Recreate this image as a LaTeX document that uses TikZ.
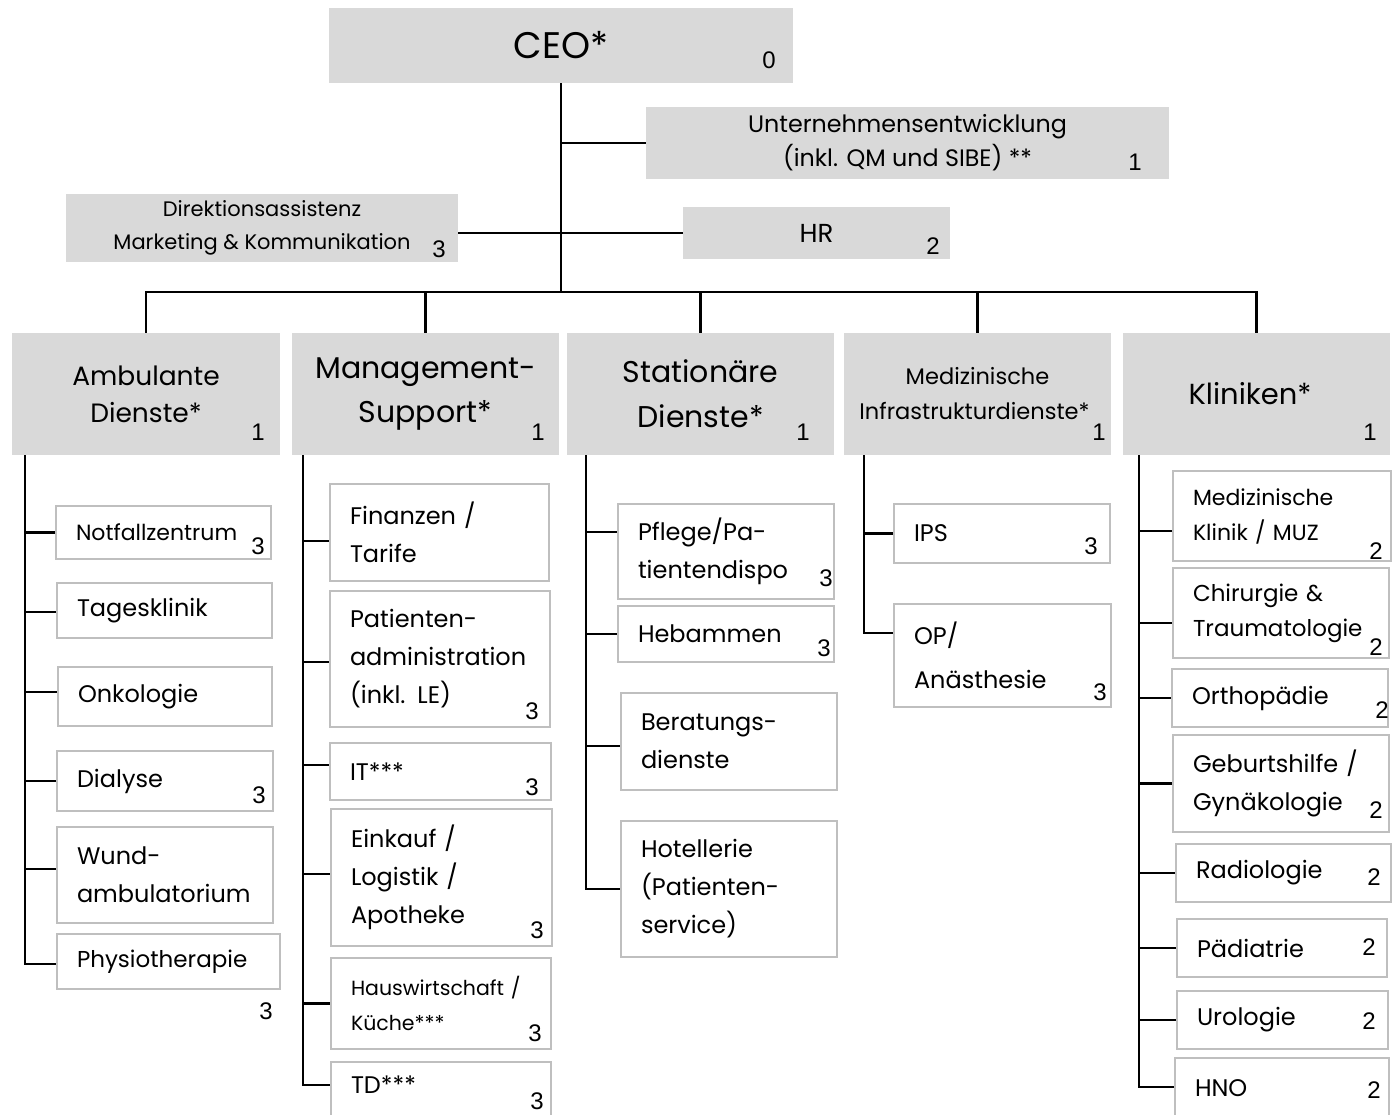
\documentclass[tikz,border=0pt]{standalone}
\usepackage{fontspec}
\setmainfont{Poppins}
\newfontfamily\numfont{Liberation Sans}
\definecolor{boxgray}{HTML}{D9D9D9}
\definecolor{edgegray}{HTML}{BFBFBF}
\tikzset{
  conn/.style={line width=2.5pt, black},
  head/.style={fill=boxgray, draw=none, inner sep=0pt, align=center},
  subbox/.style={draw=edgegray, line width=1.3pt, fill=white, inner xsep=20pt, inner ysep=0pt, align=left, font=\fontsize{24}{38}\selectfont},
  subsmall/.style={subbox, font=\fontsize{22}{35}\selectfont},
  num/.style={font=\numfont\fontsize{24}{24}\selectfont, inner sep=0pt},
}
\newcommand\headbox[7]{%
  \pgfmathsetmacro\myBW{#4-#2}\pgfmathsetmacro\myBH{#5-#3}%
  \node[head,#6,minimum width=\myBW pt,minimum height=\myBH pt] (#1) at ({(#2+#4)/2},{(#3+#5)/2}) {#7};}
\newcommand\subboxnode[7]{%
  \pgfmathsetmacro\myBW{#4-#2}\pgfmathsetmacro\myBH{#5-#3}\pgfmathsetmacro\myTW{#4-#2-40}%
  \node[subbox,#6,minimum width=\myBW pt,minimum height=\myBH pt,text width=\myTW pt] (#1) at ({(#2+#4)/2},{(#3+#5)/2}) {#7};}
% stub from trunk to box: trunk coordinate, box name, vertical shift
\newcommand\stub[3]{%
  \coordinate (#2C) at ([yshift=#3]#2.west);
  \draw[conn] (#1 |- #2C) -- (#2C);}
\newcommand\laststub[3]{%
  \coordinate (#2C) at ([yshift=#3]#2.west);
  \draw[conn] (#1) |- (#2C);}
\begin{document}
\begin{tikzpicture}[x=1pt,y=-1pt]
\useasboundingbox (0,0) rectangle (1399,1114);
\clip (0,0) rectangle (1399,1114);
\fill[white] (0,0) rectangle (1399,1114);

% top level
\headbox{ceo}{329}{8}{793}{83}{font=\fontsize{37}{40}\selectfont}{CEO*}
\headbox{unt}{646}{107}{1169}{179}{font=\fontsize{23.8}{34}\selectfont}{Unternehmensentwicklung\\(inkl. QM und SIBE) **}
\headbox{dir}{66}{194}{458}{262}{font=\fontsize{21}{33}\selectfont}{Direktionsassistenz\\Marketing \& Kommunikation}
\headbox{hr}{683}{207}{950}{259}{font=\fontsize{26}{30}\selectfont}{HR}

% columns
\headbox{amb}{12}{333}{280}{455}{font=\fontsize{26.5}{37}\selectfont}{Ambulante\\Dienste*}
\headbox{mgm}{292}{333}{559}{455}{font=\fontsize{30}{44}\selectfont}{Management-\\Support*}
\headbox{sta}{567}{333}{834}{455}{font=\fontsize{30}{45}\selectfont}{Stationäre\\Dienste*}
\headbox{med}{844}{333}{1111}{455}{font=\fontsize{22.5}{35}\selectfont}{Medizinische\\Infrastrukturdienste*\rule{6pt}{0pt}}
\headbox{kli}{1123}{333}{1390}{455}{font=\fontsize{29}{40}\selectfont}{Kliniken*\rule{13pt}{0pt}}

% Ambulante
\subboxnode{notf}{56}{506}{271}{559}{subsmall}{Notfallzentrum}
\subboxnode{tage}{57}{583}{272}{638}{}{Tagesklinik}
\subboxnode{onko}{58}{667}{272}{726}{}{Onkologie}
\subboxnode{dial}{57}{751}{273}{811}{}{Dialyse}
\subboxnode{wund}{57}{827}{273}{923}{}{Wund-\\ambulatorium}
\subboxnode{phys}{57}{934}{280}{989}{font=\fontsize{23}{38}\selectfont}{Physiotherapie}
% Management
\subboxnode{fin}{330}{484}{549}{581}{}{Finanzen /\\Tarife}
\subboxnode{pat}{330}{591}{550}{727}{}{Patienten-\\administration\\(inkl. LE)}
\subboxnode{it}{330}{743}{551}{800}{}{IT***}
\subboxnode{eink}{331}{809}{552}{946}{}{Einkauf /\\Logistik /\\Apotheke}
\subboxnode{haus}{331}{958}{551}{1049}{subsmall,font=\fontsize{20.5}{35}\selectfont}{Hauswirtschaft~/\\Küche***}
\subboxnode{td}{331}{1062}{551}{1130}{}{\raisebox{11pt}[\height][\depth]{TD***}}
% Stationaere
\subboxnode{pfl}{618}{504}{834}{599}{}{Pflege/Pa-\\tientendispo}
\subboxnode{heb}{618}{606}{834}{662}{}{Hebammen}
\subboxnode{ber}{621}{693}{837}{790}{}{Beratungs-\\dienste}
\subboxnode{hot}{621}{821}{837}{957}{}{Hotellerie\\(Patienten-\\service)}
% Medizinische
\subboxnode{ips}{894}{504}{1110}{563}{}{IPS}
\subboxnode{op}{894}{604}{1111}{707}{font=\fontsize{24}{44}\selectfont}{OP/\\Anästhesie}
% Kliniken
\subboxnode{mkl}{1173}{471}{1391}{561}{subsmall}{Medizinische\\Klinik / MUZ}
\subboxnode{chi}{1173}{568}{1389}{658}{font=\fontsize{23}{35}\selectfont}{Chirurgie \&\\Traumatologie}
\subboxnode{ort}{1172}{669}{1388}{727}{}{Orthopädie}
\subboxnode{geb}{1173}{735}{1389}{832}{}{Geburtshilfe /\\Gynäkologie}
\subboxnode{rad}{1176}{844}{1391}{902}{}{Radiologie}
\subboxnode{pae}{1177}{919}{1387}{977}{}{Pädiatrie}
\subboxnode{uro}{1177}{991}{1388}{1049}{}{Urologie}
\subboxnode{hno}{1175}{1058}{1389}{1118}{}{HNO}

% numbers
\node[num] (n0) at (769,60) {0};
\node[num] (nunt) at (1135,162) {1};
\node[num] (ndir) at (439,249) {3};
\node[num] (nhr) at (933,246) {2};
\node[num] (namb) at (258,432) {1};
\node[num] (nmgm) at (538,432) {1};
\node[num] (nsta) at (803,432) {1};
\node[num] (nmed) at (1099,432) {1};
\node[num] (nkli) at (1370,432) {1};
\node[num] (nnotf) at (258,546) {3};
\node[num] (ndial) at (259,795) {3};
\node[num] (nphys) at (266,1011) {3};
\node[num] (npat) at (532,711) {3};
\node[num] (nit) at (532,787) {3};
\node[num] (neink) at (537,930) {3};
\node[num] (nhaus) at (535,1033) {3};
\node[num] (ntd) at (537,1101) {3};
\node[num] (npfl) at (826,578) {3};
\node[num] (nheb) at (824,648) {3};
\node[num] (nips) at (1091,546) {3};
\node[num] (nop) at (1100,692) {3};
\node[num] (nmkl) at (1376,551) {2};
\node[num] (nchi) at (1376,647) {2};
\node[num] (nort) at (1382,710) {2};
\node[num] (ngeb) at (1376,810) {2};
\node[num] (nrad) at (1374,877) {2};
\node[num] (npae) at (1369,947) {2};
\node[num] (nuro) at (1369,1021) {2};
\node[num] (nhno) at (1374,1090) {2};

% top connectors
\coordinate (bus) at (561,292);
\draw[conn] (ceo.south) -- (bus);
\draw[conn] (ceo.south |- unt.west) -- (unt.west);
\draw[conn] (ceo.south |- hr.west) -- (hr.west);
\draw[conn] (dir.east |- hr.west) -- (ceo.south |- hr.west);
\draw[conn] (amb.north) |- (bus) -| (kli.north);
\draw[conn] (mgm.north) -- (mgm.north |- bus);
\draw[conn] (sta.north) -- (sta.north |- bus);
\draw[conn] (med.north) -- (med.north |- bus);

% column trunks
\coordinate (ambT) at ([xshift=13pt]amb.south west);
\coordinate (mgmT) at ([xshift=11pt]mgm.south west);
\coordinate (staT) at ([xshift=19pt]sta.south west);
\coordinate (medT) at ([xshift=20pt]med.south west);
\coordinate (kliT) at ([xshift=16pt]kli.south west);

\stub{ambT}{notf}{0pt}
\stub{ambT}{tage}{-1.5pt}
\stub{ambT}{onko}{4.5pt}
\stub{ambT}{dial}{0pt}
\stub{ambT}{wund}{6pt}
\laststub{ambT}{phys}{-2.5pt}

\stub{mgmT}{fin}{-8.5pt}
\stub{mgmT}{pat}{-3pt}
\stub{mgmT}{it}{6.5pt}
\stub{mgmT}{eink}{3.5pt}
\stub{mgmT}{haus}{0pt}
\laststub{mgmT}{td}{11pt}

\stub{staT}{pfl}{19.5pt}
\stub{staT}{heb}{0pt}
\stub{staT}{ber}{-4.5pt}
\laststub{staT}{hot}{0pt}

\stub{medT}{ips}{0pt}
\laststub{medT}{op}{22.5pt}

\stub{kliT}{mkl}{-15pt}
\stub{kliT}{chi}{-10pt}
\stub{kliT}{ort}{0pt}
\stub{kliT}{geb}{0pt}
\stub{kliT}{rad}{0pt}
\stub{kliT}{pae}{0pt}
\stub{kliT}{uro}{0pt}
\laststub{kliT}{hno}{1pt}
\end{tikzpicture}
\end{document}
